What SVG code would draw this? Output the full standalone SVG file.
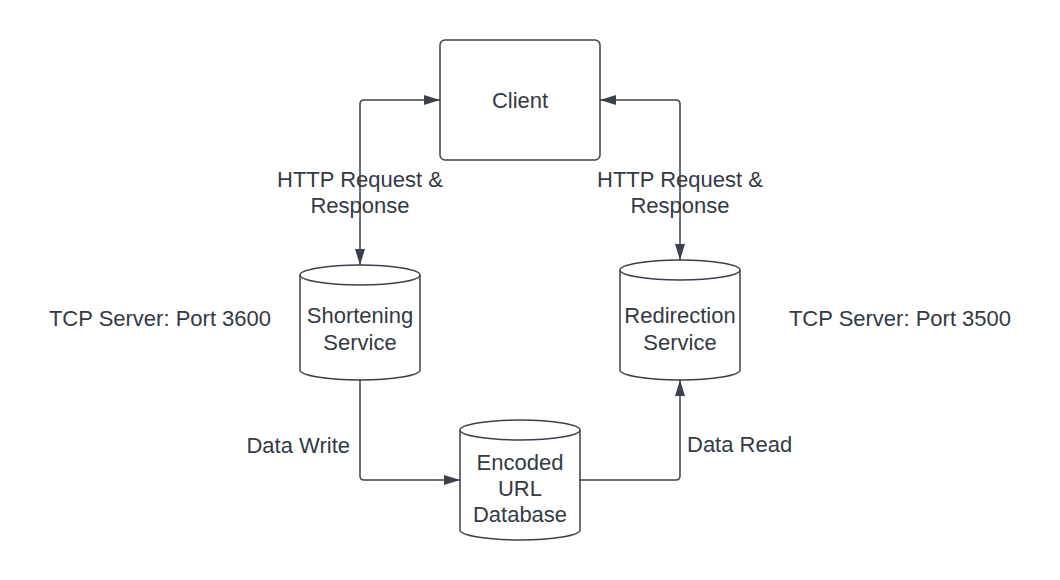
<svg xmlns="http://www.w3.org/2000/svg" width="1060" height="580" viewBox="0 0 1060 580">
  <style>
    .shape { fill: #ffffff; stroke: #3a414a; stroke-width: 1.5; }
    .line { fill: none; stroke: #3a414a; stroke-width: 1.5; }
    text { font-family: "Liberation Sans", Arial, sans-serif; font-size: 22px; fill: #333a44; }
    .c { text-anchor: middle; }
    .r { text-anchor: end; }
  </style>
  <defs>
    <marker id="arrow" viewBox="0 0 16 10" refX="16" refY="5" markerWidth="16" markerHeight="10" markerUnits="userSpaceOnUse" orient="auto-start-reverse">
      <path d="M0,0 L16,5 L0,10 z" fill="#3a414a"/>
    </marker>
  </defs>
  <rect width="1060" height="580" fill="#ffffff"/>

  <g id="connectors">
    <path class="line" d="M360,265 L360,104 Q360,100 364,100 L440,100" marker-start="url(#arrow)" marker-end="url(#arrow)"/>
    <path class="line" d="M680,260 L680,104 Q680,100 676,100 L600,100" marker-start="url(#arrow)" marker-end="url(#arrow)"/>
    <path class="line" d="M360,380 L360,476 Q360,480 364,480 L460,480" marker-end="url(#arrow)"/>
    <path class="line" d="M580,480 L676,480 Q680,480 680,476 L680,380" marker-end="url(#arrow)"/>
    <text class="c" x="360" y="187">HTTP Request &amp;</text>
    <text class="c" x="360" y="213">Response</text>
    <text class="c" x="680" y="187">HTTP Request &amp;</text>
    <text class="c" x="680" y="213">Response</text>
    <text class="r" x="350" y="453">Data Write</text>
    <text x="687" y="452">Data Read</text>
  </g>

  <g id="client">
    <rect class="shape" x="440" y="40" width="160" height="120" rx="5"/>
    <text class="c" x="520" y="108">Client</text>
  </g>

  <g id="shortening">
    <path class="shape" d="M300,275 A60,10 0 0 1 420,275 L420,370 A60,10 0 0 1 300,370 Z"/>
    <path class="line" d="M300,275 A60,10 0 0 0 420,275"/>
    <text class="c" x="360" y="323">Shortening</text>
    <text class="c" x="360" y="350">Service</text>
  </g>

  <g id="redirection">
    <path class="shape" d="M620,270 A60,10 0 0 1 740,270 L740,370 A60,10 0 0 1 620,370 Z"/>
    <path class="line" d="M620,270 A60,10 0 0 0 740,270"/>
    <text class="c" x="680" y="323">Redirection</text>
    <text class="c" x="680" y="350">Service</text>
  </g>

  <g id="database">
    <path class="shape" d="M460,430 A60,10 0 0 1 580,430 L580,530 A60,10 0 0 1 460,530 Z"/>
    <path class="line" d="M460,430 A60,10 0 0 0 580,430"/>
    <text class="c" x="520" y="470">Encoded</text>
    <text class="c" x="520" y="496">URL</text>
    <text class="c" x="520" y="522">Database</text>
  </g>

  <g id="tcp-labels">
    <text class="c" x="160" y="326">TCP Server: Port 3600</text>
    <text class="c" x="900" y="326">TCP Server: Port 3500</text>
  </g>
</svg>
